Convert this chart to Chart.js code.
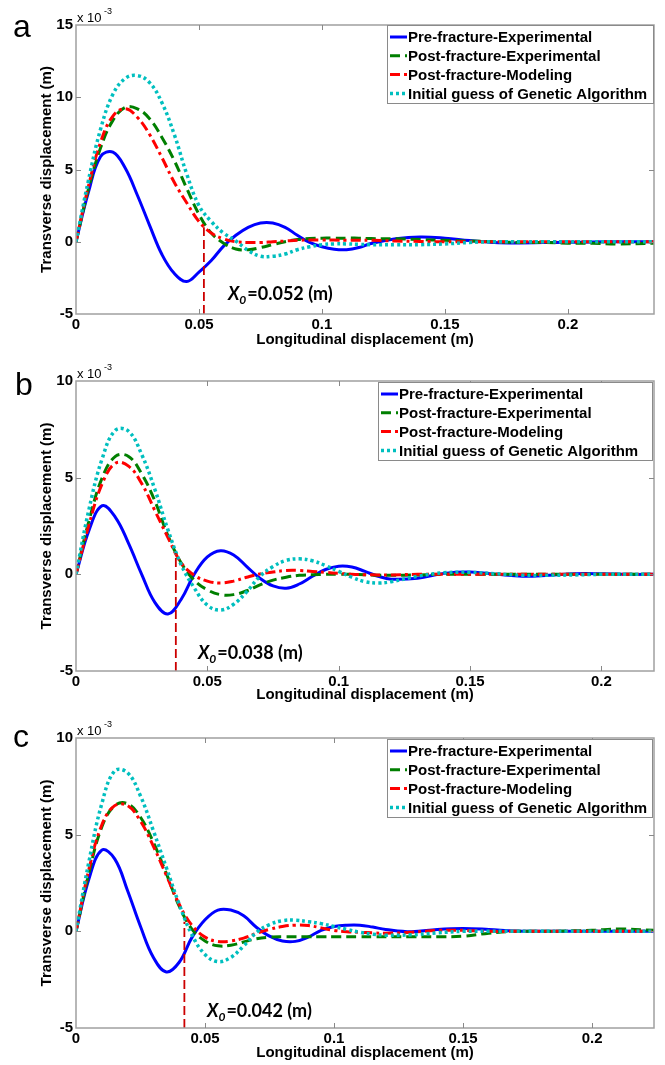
<!DOCTYPE html>
<html>
<head>
<meta charset="utf-8">
<script src="https://cdn.jsdelivr.net/npm/chart.js@4.4.1/dist/chart.umd.min.js"></script>
<style>
    body { margin: 0; background: #fff; width: 665px; height: 1065px; overflow: hidden; position: relative; }
    canvas { position: absolute; left: 0; }
</style>
</head>
<body>
<canvas id="chartA" width="665" height="355" style="top:0px"></canvas>
<canvas id="chartB" width="665" height="355" style="top:355px"></canvas>
<canvas id="chartC" width="665" height="355" style="top:710px"></canvas>
<script>
// legend labels
var seriesNames = ['Pre-fracture-Experimental', 'Post-fracture-Experimental', 'Post-fracture-Modeling', 'Initial guess of Genetic Algorithm'];

// panel a  (values x 10^-3 m)
var xA = [0, 0.005, 0.01, 0.015, 0.02, 0.025, 0.03, 0.035, 0.04, 0.045, 0.05, 0.055, 0.06, 0.065, 0.07, 0.075, 0.08, 0.085, 0.09, 0.095, 0.1, 0.105, 0.11, 0.115, 0.12, 0.13, 0.14, 0.15, 0.16, 0.17, 0.18, 0.19, 0.2, 0.21, 0.22, 0.235];
var preA     = [0, 3.4, 5.9, 6.2, 5.1, 3.2, 1.1, -0.9, -2.2, -2.75, -2.1, -1.3, -0.3, 0.45, 1.0, 1.3, 1.3, 1.0, 0.45, -0.05, -0.35, -0.52, -0.55, -0.4, -0.12, 0.2, 0.33, 0.25, 0.08, -0.05, -0.08, -0.06, -0.04, -0.02, 0, 0];
var postExpA = [0, 3.6, 6.5, 8.4, 9.3, 9.2, 8.5, 7.2, 5.6, 3.7, 1.9, 0.6, -0.1, -0.5, -0.55, -0.4, -0.2, 0.0, 0.15, 0.22, 0.25, 0.25, 0.25, 0.25, 0.22, 0.2, 0.15, 0.1, 0.05, 0.0, -0.05, -0.05, -0.1, -0.1, -0.15, -0.1];
var postModA = [0, 3.8, 6.9, 8.7, 9.2, 8.6, 7.4, 5.8, 4.1, 2.7, 1.4, 0.6, 0.2, 0.0, -0.05, -0.05, 0.0, 0.05, 0.1, 0.12, 0.12, 0.12, 0.1, 0.1, 0.1, 0.05, 0.02, 0, 0, 0, 0, 0, 0, 0, 0, 0];
var initA    = [0, 4.2, 7.8, 10.2, 11.3, 11.5, 11.0, 9.6, 7.4, 4.7, 2.5, 1.4, 0.6, 0.05, -0.6, -1.0, -1.0, -0.85, -0.55, -0.35, -0.2, -0.15, -0.15, -0.18, -0.2, -0.2, -0.2, -0.15, -0.05, 0, 0, 0, 0, 0, 0, 0];

// panel b
var xB = [0, 0.005, 0.01, 0.015, 0.02, 0.025, 0.03, 0.035, 0.04, 0.045, 0.05, 0.055, 0.06, 0.065, 0.07, 0.075, 0.08, 0.085, 0.09, 0.095, 0.1, 0.105, 0.11, 0.115, 0.12, 0.13, 0.14, 0.15, 0.16, 0.17, 0.18, 0.19, 0.2, 0.21, 0.22];
var preB     = [0, 2.3, 3.55, 2.95, 1.6, 0.0, -1.45, -2.05, -1.3, 0.0, 0.9, 1.22, 1.0, 0.4, -0.2, -0.6, -0.72, -0.5, -0.1, 0.25, 0.42, 0.38, 0.15, -0.1, -0.25, -0.2, 0.05, 0.12, 0.0, -0.1, -0.05, 0.03, 0.03, 0, 0];
var postExpB = [0, 2.8, 5.0, 6.1, 6.1, 5.2, 3.8, 2.0, 0.6, -0.3, -0.8, -1.05, -1.05, -0.85, -0.55, -0.3, -0.15, -0.05, -0.02, 0, 0, 0, -0.02, -0.05, -0.05, -0.03, 0, 0, 0, 0, 0, 0, 0, 0, 0];
var postModB = [0, 2.6, 4.7, 5.75, 5.6, 4.7, 3.3, 1.9, 0.6, -0.05, -0.35, -0.45, -0.35, -0.15, 0.02, 0.12, 0.2, 0.2, 0.15, 0.1, 0.05, 0.0, -0.02, -0.03, -0.03, 0, 0, 0, 0, 0, 0, 0, 0, 0, 0];
var initB    = [0, 3.4, 6.0, 7.45, 7.4, 6.2, 4.4, 2.3, 0.5, -0.7, -1.6, -1.85, -1.55, -0.9, -0.1, 0.4, 0.72, 0.8, 0.7, 0.45, 0.15, -0.15, -0.38, -0.45, -0.38, -0.1, 0.08, 0.1, 0.03, -0.05, -0.05, -0.03, 0, 0, 0];

// panel c
var xC = [0, 0.005, 0.01, 0.015, 0.02, 0.025, 0.03, 0.035, 0.04, 0.045, 0.05, 0.055, 0.06, 0.065, 0.07, 0.075, 0.08, 0.085, 0.09, 0.095, 0.1, 0.105, 0.11, 0.115, 0.12, 0.13, 0.14, 0.15, 0.16, 0.17, 0.18, 0.19, 0.2, 0.21, 0.224];
var preC     = [0, 2.7, 4.2, 3.75, 2.1, 0.25, -1.35, -2.1, -1.6, -0.3, 0.6, 1.1, 1.1, 0.8, 0.2, -0.25, -0.5, -0.52, -0.3, 0.05, 0.25, 0.32, 0.32, 0.22, 0.1, -0.02, 0.1, 0.15, 0.1, 0.02, 0, 0, 0, 0, 0];
var postExpC = [0, 3.0, 5.4, 6.5, 6.6, 5.9, 4.6, 3.0, 1.3, 0.1, -0.5, -0.75, -0.72, -0.55, -0.38, -0.3, -0.28, -0.28, -0.28, -0.28, -0.28, -0.28, -0.28, -0.28, -0.28, -0.28, -0.28, -0.25, -0.1, 0.0, 0.0, 0.02, 0.05, 0.12, 0.05];
var postModC = [0, 3.2, 5.5, 6.5, 6.5, 5.7, 4.4, 2.9, 1.4, 0.3, -0.3, -0.52, -0.5, -0.35, -0.1, 0.1, 0.25, 0.32, 0.3, 0.18, 0.05, -0.02, -0.05, -0.08, -0.1, -0.05, 0.05, 0.05, 0, 0, 0, 0, 0, 0, 0];
var initC    = [0, 3.6, 6.6, 8.3, 8.2, 7.0, 5.2, 3.3, 1.4, -0.2, -1.2, -1.57, -1.35, -0.75, -0.05, 0.35, 0.55, 0.58, 0.5, 0.4, 0.25, 0.1, -0.05, -0.15, -0.2, -0.18, -0.08, 0, 0, 0, 0, 0, 0, 0, 0];

// fracture location X0 and where its marker line meets the curves
var x0Values = [0.052, 0.038, 0.042];
var x0Tops = [1.0, 1.1, 0.5];
var x0Labels = ['=0.052 (m)', '=0.038 (m)', '=0.042 (m)'];

// axis limits and ticks
var xMaxes = [0.235, 0.22, 0.224];
var yMins = [-5, -5, -5];
var yMaxes = [15, 10, 10];
var xTickStep = 0.05;
var yTickStep = 5;

var FONT = "'Liberation Sans', Arial, sans-serif";
var styles = [
    { color: '#0000FF', width: 3, dash: [] },
    { color: '#007F00', width: 3, dash: [10, 5] },
    { color: '#FF0000', width: 3, dash: [10, 4, 3, 4] },
    { color: '#00BFBF', width: 3.5, dash: [3, 3] }
];

var panelPlugin = {
    id: 'panel',
    afterDraw: function (chart, args, opts) {
        var ctx = chart.ctx;
        var area = chart.chartArea;
        var xs = chart.scales.x;
        var ys = chart.scales.y;
        ctx.save();

        // axes box
        ctx.strokeStyle = '#a0a0a0';
        ctx.lineWidth = 1.5;
        ctx.setLineDash([]);
        ctx.strokeRect(area.left, area.top, area.right - area.left, area.bottom - area.top);

        // inward ticks on all four sides
        ctx.lineWidth = 1;
        ctx.strokeStyle = '#888';
        xs.ticks.forEach(function (t) {
            var px = Math.round(xs.getPixelForValue(t.value)) + 0.5;
            if (px <= area.left + 1 || px >= area.right - 1) return;
            ctx.beginPath();
            ctx.moveTo(px, area.bottom); ctx.lineTo(px, area.bottom - 5);
            ctx.moveTo(px, area.top); ctx.lineTo(px, area.top + 5);
            ctx.stroke();
        });
        ys.ticks.forEach(function (t) {
            var py = Math.round(ys.getPixelForValue(t.value)) + 0.5;
            if (py <= area.top + 1 || py >= area.bottom - 1) return;
            ctx.beginPath();
            ctx.moveTo(area.left, py); ctx.lineTo(area.left + 5, py);
            ctx.moveTo(area.right, py); ctx.lineTo(area.right - 5, py);
            ctx.stroke();
        });

        // exponent label
        ctx.fillStyle = '#000';
        ctx.textBaseline = 'alphabetic';
        ctx.textAlign = 'left';
        ctx.font = '13px ' + FONT;
        ctx.fillText('x 10', area.left + 1, area.top - 3);
        ctx.font = '9px ' + FONT;
        ctx.fillText('-3', area.left + 28, area.top - 11);

        // panel letter
        ctx.font = '32px ' + FONT;
        ctx.fillText(opts.letter, opts.letterX, opts.letterY);

        // X0 note
        var nx = xs.getPixelForValue(opts.noteX);
        var ny = ys.getPixelForValue(opts.noteY);
        ctx.font = 'italic bold 18px Lato, sans-serif';
        ctx.fillText('X', nx, ny);
        nx += ctx.measureText('X').width;
        ctx.font = 'italic bold 12px Lato, sans-serif';
        ctx.fillText('0', nx, ny + 4);
        nx += ctx.measureText('0').width + 1;
        ctx.font = 'bold 18px Lato, sans-serif';
        ctx.fillText(opts.note, nx, ny);

        // legend
        var b = opts.legendBox;
        ctx.fillStyle = '#fff';
        ctx.fillRect(b[0], b[1], b[2], b[3]);
        ctx.strokeStyle = '#8a8a8a';
        ctx.lineWidth = 1;
        ctx.strokeRect(b[0] + 0.5, b[1] + 0.5, b[2], b[3]);
        ctx.font = 'bold 15px ' + FONT;
        ctx.textBaseline = 'middle';
        for (var i = 0; i < seriesNames.length; i++) {
            var ds = chart.data.datasets[i];
            var ry = b[1] + 12 + i * 18.8;
            ctx.strokeStyle = ds.borderColor;
            ctx.lineWidth = ds.borderWidth;
            ctx.setLineDash(ds.borderDash);
            ctx.beginPath();
            ctx.moveTo(b[0] + 3, ry);
            ctx.lineTo(b[0] + 20, ry);
            ctx.stroke();
            ctx.setLineDash([]);
            ctx.fillStyle = '#000';
            ctx.fillText(seriesNames[i], b[0] + 21, ry + 1);
        }
        ctx.restore();
    }
};

function makeChart(id, idx, xs, seriesList, cfg) {
    var datasets = seriesList.map(function (vals, i) {
        return {
            label: seriesNames[i],
            data: xs.map(function (x, j) { return { x: x, y: vals[j] }; }),
            borderColor: styles[i].color,
            borderWidth: styles[i].width,
            borderDash: styles[i].dash,
            pointRadius: 0,
            tension: 0.4,
            order: 4 - i
        };
    });
    datasets.push({
        label: 'X0',
        data: [{ x: x0Values[idx], y: yMins[idx] }, { x: x0Values[idx], y: x0Tops[idx] }],
        borderColor: '#CC0000',
        borderWidth: 1.8,
        borderDash: [9, 4],
        pointRadius: 0,
        order: 0
    });

    return new Chart(document.getElementById(id), {
        type: 'line',
        data: { datasets: datasets },
        plugins: [panelPlugin],
        options: {
            responsive: false,
            animation: false,
            devicePixelRatio: 1,
            layout: { padding: { top: cfg.padTop, right: 11, bottom: 0, left: 0 } },
            plugins: {
                legend: { display: false },
                tooltip: { enabled: false },
                panel: cfg.panel
            },
            scales: {
                x: {
                    type: 'linear',
                    min: 0,
                    max: xMaxes[idx],
                    grid: { display: false, drawTicks: false },
                    border: { display: false },
                    ticks: {
                        stepSize: xTickStep,
                        includeBounds: false,
                        padding: 2,
                        color: '#000',
                        font: { family: FONT, size: 15, weight: 'bold' },
                        callback: function (v) { return String(+v.toFixed(3)); }
                    },
                    title: {
                        display: true,
                        text: 'Longitudinal displacement (m)',
                        color: '#000',
                        font: { family: FONT, size: 15, weight: 'bold' },
                        padding: { top: 0, bottom: cfg.xTitlePad }
                    },
                    afterFit: function (scale) { scale.height = cfg.xAxisH; }
                },
                y: {
                    min: yMins[idx],
                    max: yMaxes[idx],
                    grid: { display: false, drawTicks: false },
                    border: { display: false },
                    ticks: {
                        stepSize: yTickStep,
                        padding: 3,
                        color: '#000',
                        font: { family: FONT, size: 15, weight: 'bold' },
                        callback: function (v) { return String(v); }
                    },
                    title: {
                        display: true,
                        text: 'Transverse displacement (m)',
                        color: '#000',
                        font: { family: FONT, size: 15, weight: 'bold' },
                        padding: { top: 38, bottom: 0 }
                    },
                    afterFit: function (scale) { scale.width = 76; }
                }
            }
        }
    });
}

document.addEventListener('DOMContentLoaded', function () {
    makeChart('chartA', 0, xA, [preA, postExpA, postModA, initA], {
        padTop: 25, xAxisH: 41, xTitlePad: 6,
        panel: { letter: 'a', letterX: 13, letterY: 37, note: x0Labels[0], noteX: 0.0618, noteY: -4.0, legendBox: [387, 25, 266, 78] }
    });
    makeChart('chartB', 1, xB, [preB, postExpB, postModB, initB], {
        padTop: 26, xAxisH: 39, xTitlePad: 6,
        panel: { letter: 'b', letterX: 15, letterY: 40, note: x0Labels[1], noteX: 0.0464, noteY: -4.4, legendBox: [378, 27, 274, 78] }
    });
    makeChart('chartC', 2, xC, [preC, postExpC, postModC, initC], {
        padTop: 28, xAxisH: 37, xTitlePad: 3,
        panel: { letter: 'c', letterX: 13, letterY: 37, note: x0Labels[2], noteX: 0.0508, noteY: -4.43, legendBox: [387, 29, 265, 78] }
    });
});
</script>
</body>
</html>
